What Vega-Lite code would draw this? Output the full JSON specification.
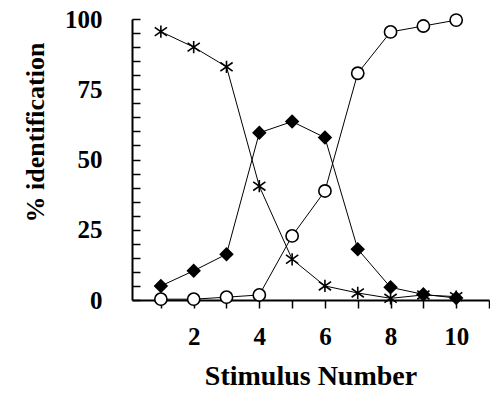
{
  "$schema": "https://vega.github.io/schema/vega-lite/v6.json",
  "width": 357,
  "height": 281,
  "autosize": {"type": "none"},
  "padding": {"left": 132, "top": 19, "right": 1, "bottom": 96},
  "background": "white",
  "config": {"view": {"stroke": null}, "font": "Liberation Serif"},
  "datasets": {
    "ident": [
      {"stim": 1, "pct": 95.5, "series": "R"},
      {"stim": 2, "pct": 90, "series": "R"},
      {"stim": 3, "pct": 83, "series": "R"},
      {"stim": 4, "pct": 40.5, "series": "R"},
      {"stim": 5, "pct": 14.5, "series": "R"},
      {"stim": 6, "pct": 5, "series": "R"},
      {"stim": 7, "pct": 2.5, "series": "R"},
      {"stim": 8, "pct": 0.6, "series": "R"},
      {"stim": 9, "pct": 1.8, "series": "R"},
      {"stim": 10, "pct": 1.2, "series": "R"},
      {"stim": 1, "pct": 5, "series": "W"},
      {"stim": 2, "pct": 10.4, "series": "W"},
      {"stim": 3, "pct": 16.3, "series": "W"},
      {"stim": 4, "pct": 59.5, "series": "W"},
      {"stim": 5, "pct": 63.5, "series": "W"},
      {"stim": 6, "pct": 57.8, "series": "W"},
      {"stim": 7, "pct": 18.1, "series": "W"},
      {"stim": 8, "pct": 4.5, "series": "W"},
      {"stim": 9, "pct": 2, "series": "W"},
      {"stim": 10, "pct": 0.7, "series": "W"},
      {"stim": 1, "pct": 0.3, "series": "L"},
      {"stim": 2, "pct": 0.3, "series": "L"},
      {"stim": 3, "pct": 1, "series": "L"},
      {"stim": 4, "pct": 1.8, "series": "L"},
      {"stim": 5, "pct": 22.8, "series": "L"},
      {"stim": 6, "pct": 38.8, "series": "L"},
      {"stim": 7, "pct": 80.7, "series": "L"},
      {"stim": 8, "pct": 95.4, "series": "L"},
      {"stim": 9, "pct": 97.5, "series": "L"},
      {"stim": 10, "pct": 99.6, "series": "L"}
    ]
  },
  "encoding": {
    "x": {
      "field": "stim", "type": "quantitative",
      "scale": {"domain": [0.12, 11], "nice": false, "zero": false},
      "axis": {
        "title": "Stimulus Number",
        "values": [1, 2, 3, 4, 5, 6, 7, 8, 9, 10, 11],
        "labelExpr": "(datum.value % 2 === 0 && datum.value <= 10) ? datum.label : ''",
        "labelOverlap": false,
        "grid": false,
        "domainColor": "black", "domainWidth": 2,
        "tickColor": "black", "tickWidth": 1.5, "tickSize": 8,
        "labelFont": "Liberation Serif", "labelFontWeight": "bold", "labelFontSize": 25, "labelColor": "black",
        "labelPadding": 16,
        "titleFont": "Liberation Serif", "titleFontWeight": "bold", "titleFontSize": 28, "titleColor": "black",
        "titlePadding": 13
      }
    },
    "y": {
      "field": "pct", "type": "quantitative",
      "scale": {"domain": [0, 100], "nice": false},
      "axis": {
        "title": "% identification",
        "values": [0, 5, 10, 15, 20, 25, 30, 35, 40, 45, 50, 55, 60, 65, 70, 75, 80, 85, 90, 95, 100],
        "labelExpr": "datum.value % 25 === 0 ? datum.label : ''",
        "labelOverlap": false,
        "grid": false,
        "domainColor": "black", "domainWidth": 2,
        "tickColor": "black", "tickWidth": 1.5, "tickSize": -8,
        "labelFont": "Liberation Serif", "labelFontWeight": "bold", "labelFontSize": 25, "labelColor": "black",
        "labelPadding": 38,
        "titleFont": "Liberation Serif", "titleFontWeight": "bold", "titleFontSize": 26, "titleColor": "black",
        "titleX": -97, "titleY": 113, "titleBaseline": "middle", "titleAlign": "center"
      }
    }
  },
  "layer": [
    {
      "data": {"name": "ident"},
      "mark": {"type": "line", "color": "black", "strokeWidth": 1},
      "encoding": {"detail": {"field": "series"}}
    },
    {
      "data": {"name": "ident"},
      "mark": {"type": "point", "filled": true, "size": 150, "stroke": "black", "strokeWidth": 1.6, "opacity": 1},
      "encoding": {
        "shape": {
          "field": "series",
          "scale": {"domain": ["R", "W", "L"], "range": ["M-1,-0.7L1,0.7M-1,0.7L1,-0.7M0,-1L0,1", "diamond", "circle"]},
          "legend": null
        },
        "fill": {
          "field": "series",
          "scale": {"domain": ["R", "W", "L"], "range": ["black", "black", "white"]},
          "legend": null
        }
      }
    }
  ]
}
